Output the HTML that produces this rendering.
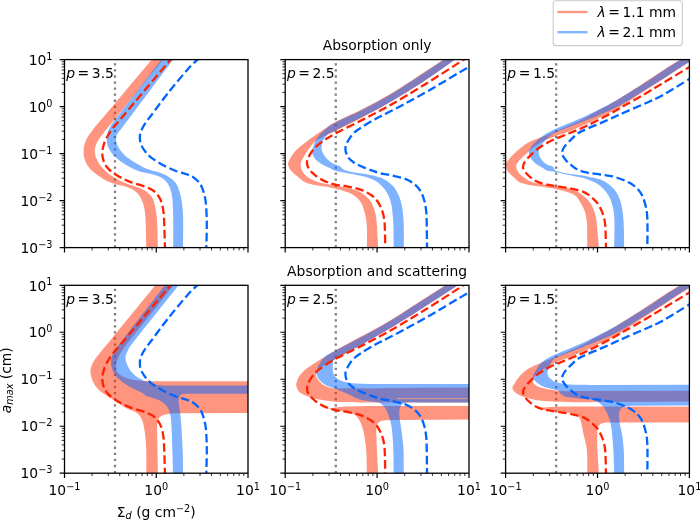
<!DOCTYPE html>
<html><head><meta charset="utf-8"><title>figure</title>
<style>html,body{margin:0;padding:0;background:#fff}svg text{font-family:"DejaVu Sans","Liberation Sans",sans-serif;fill:#000}</style></head>
<body>
<svg width="700" height="524" viewBox="0 0 700 524" style="display:block">
<rect width="700" height="524" fill="#fff"/>
<clipPath id="cp00"><rect x="64.50" y="59.60" width="183.50" height="188.00"/></clipPath>
<clipPath id="cp01"><rect x="285.20" y="59.60" width="183.80" height="188.00"/></clipPath>
<clipPath id="cp02"><rect x="505.60" y="59.60" width="183.80" height="188.00"/></clipPath>
<clipPath id="cp10"><rect x="64.50" y="285.30" width="183.50" height="187.90"/></clipPath>
<clipPath id="cp11"><rect x="285.20" y="285.30" width="183.80" height="187.90"/></clipPath>
<clipPath id="cp12"><rect x="505.60" y="285.30" width="183.80" height="187.90"/></clipPath>
<g clip-path="url(#cp00)">
<line x1="114.98" y1="247.60" x2="114.98" y2="59.60" stroke="#808080" stroke-width="2.3" stroke-dasharray="2.3,3.77"/>
<path d="M153.30,57.80C148.75,63.20 134.38,80.25 126.00,90.20C117.62,100.15 108.50,110.93 103.00,117.50C97.50,124.07 95.83,125.82 93.00,129.60C90.17,133.38 87.57,136.77 86.00,140.20C84.43,143.63 83.77,146.85 83.60,150.20C83.43,153.55 83.93,157.20 85.00,160.30C86.07,163.40 87.92,166.33 90.00,168.80C92.08,171.27 94.77,173.10 97.50,175.10C100.23,177.10 103.45,179.33 106.40,180.80C109.35,182.27 112.07,182.97 115.20,183.90C118.33,184.83 122.27,185.45 125.20,186.40C128.13,187.35 130.48,188.13 132.80,189.60C135.12,191.07 137.43,193.00 139.10,195.20C140.77,197.40 141.82,199.87 142.80,202.80C143.78,205.73 144.50,208.93 145.00,212.80C145.50,216.67 145.58,219.97 145.80,226.00C146.02,232.03 146.22,245.17 146.30,249.00L158.00,249.00C157.88,245.17 157.52,231.40 157.30,226.00C157.08,220.60 157.02,219.63 156.70,216.60C156.38,213.57 156.03,210.73 155.40,207.80C154.77,204.87 154.15,201.52 152.90,199.00C151.65,196.48 150.00,194.48 147.90,192.70C145.80,190.92 143.23,189.58 140.30,188.30C137.37,187.02 133.45,186.13 130.30,185.00C127.15,183.87 124.13,182.78 121.40,181.50C118.67,180.22 116.40,178.92 113.90,177.30C111.40,175.68 108.72,173.85 106.40,171.80C104.08,169.75 101.72,167.33 100.00,165.00C98.28,162.67 96.95,160.30 96.10,157.80C95.25,155.30 94.72,152.63 94.90,150.00C95.08,147.37 95.63,145.00 97.20,142.00C98.77,139.00 101.55,135.60 104.30,132.00C107.05,128.40 108.08,127.33 113.70,120.40C119.32,113.47 129.53,100.83 138.00,90.40C146.47,79.97 160.08,63.23 164.50,57.80Z" fill="#ff2a00" fill-opacity="0.50" fill-rule="nonzero"/>
<path d="M163.00,57.80C158.83,63.17 145.90,79.80 138.00,90.00C130.10,100.20 120.38,112.57 115.60,119.00C110.82,125.43 110.77,125.50 109.30,128.60C107.83,131.70 107.02,134.63 106.80,137.60C106.58,140.57 106.85,143.45 108.00,146.40C109.15,149.35 111.07,152.47 113.70,155.30C116.33,158.13 119.82,160.83 123.80,163.40C127.78,165.97 133.20,168.97 137.60,170.70C142.00,172.43 146.43,172.75 150.20,173.80C153.97,174.85 157.48,175.63 160.20,177.00C162.92,178.37 164.82,180.02 166.50,182.00C168.18,183.98 169.35,186.28 170.30,188.90C171.25,191.52 171.75,194.13 172.20,197.70C172.65,201.27 172.82,205.58 173.00,210.30C173.18,215.02 173.27,219.55 173.30,226.00C173.33,232.45 173.22,245.17 173.20,249.00L183.00,249.00C183.03,245.17 183.22,232.03 183.20,226.00C183.18,219.97 183.17,217.08 182.90,212.80C182.63,208.52 182.23,204.07 181.60,200.30C180.97,196.53 180.15,193.15 179.10,190.20C178.05,187.25 176.98,184.80 175.30,182.60C173.62,180.40 171.52,178.63 169.00,177.00C166.48,175.37 163.33,173.97 160.20,172.80C157.07,171.63 153.33,171.10 150.20,170.00C147.07,168.90 144.97,168.12 141.40,166.20C137.83,164.28 132.05,160.83 128.80,158.50C125.55,156.17 123.78,154.42 121.90,152.20C120.02,149.98 118.48,147.40 117.50,145.20C116.52,143.00 116.05,140.87 116.00,139.00C115.95,137.13 116.22,135.83 117.20,134.00C118.18,132.17 120.07,130.42 121.90,128.00C123.73,125.58 123.52,125.77 128.20,119.50C132.88,113.23 142.28,100.68 150.00,90.40C157.72,80.12 170.42,63.23 174.50,57.80Z" fill="#0066ff" fill-opacity="0.50" fill-rule="nonzero"/>
<path d="M165.00,249.00C164.88,245.17 164.53,232.03 164.30,226.00C164.07,219.97 164.03,216.67 163.60,212.80C163.17,208.93 162.65,205.73 161.70,202.80C160.75,199.87 159.58,197.40 157.90,195.20C156.22,193.00 154.12,191.17 151.60,189.60C149.08,188.03 146.15,187.00 142.80,185.80C139.45,184.60 134.88,183.63 131.50,182.40C128.12,181.17 125.25,179.78 122.50,178.40C119.75,177.02 117.30,175.65 115.00,174.10C112.70,172.55 110.48,170.98 108.70,169.10C106.92,167.22 105.35,165.10 104.30,162.80C103.25,160.50 102.62,157.87 102.40,155.30C102.18,152.73 102.37,150.18 103.00,147.40C103.63,144.62 104.62,141.73 106.20,138.60C107.78,135.47 109.67,132.37 112.50,128.60C115.33,124.83 117.87,122.33 123.20,116.00C128.53,109.67 136.35,100.30 144.50,90.60C152.65,80.90 167.50,63.27 172.10,57.80" fill="none" stroke="#ff2200" stroke-width="2.3" stroke-dasharray="8.5,3.66" stroke-dashoffset="1.6"/>
<path d="M206.30,249.00C206.38,245.17 206.77,232.03 206.80,226.00C206.83,219.97 206.72,217.08 206.50,212.80C206.28,208.52 206.08,204.07 205.50,200.30C204.92,196.53 204.05,193.15 203.00,190.20C201.95,187.25 200.88,184.80 199.20,182.60C197.52,180.40 195.20,178.47 192.90,177.00C190.60,175.53 188.33,174.85 185.40,173.80C182.47,172.75 179.08,172.17 175.30,170.70C171.52,169.23 166.67,167.15 162.70,165.00C158.73,162.85 154.42,160.05 151.50,157.80C148.58,155.55 146.98,153.82 145.20,151.50C143.42,149.18 141.68,146.42 140.80,143.90C139.92,141.38 139.80,138.70 139.90,136.40C140.00,134.10 140.42,132.42 141.40,130.10C142.38,127.78 144.12,125.02 145.80,122.50C147.48,119.98 147.80,119.92 151.50,115.00C155.20,110.08 161.92,100.67 168.00,93.00C174.08,85.33 182.75,74.87 188.00,69.00C193.25,63.13 197.58,59.67 199.50,57.80" fill="none" stroke="#0066ff" stroke-width="2.3" stroke-dasharray="8.5,3.66" stroke-dashoffset="4.5"/>
</g>
<path d="M64.50,247.60v4.86M156.25,247.60v4.86M248.00,247.60v4.86M64.50,247.60h-4.86M64.50,200.60h-4.86M64.50,153.60h-4.86M64.50,106.60h-4.86M64.50,59.60h-4.86" stroke="#000" stroke-width="1.2" fill="none"/>
<path d="M92.12,247.60v2.78M108.28,247.60v2.78M119.74,247.60v2.78M128.63,247.60v2.78M135.90,247.60v2.78M142.04,247.60v2.78M147.36,247.60v2.78M152.05,247.60v2.78M183.87,247.60v2.78M200.03,247.60v2.78M211.49,247.60v2.78M220.38,247.60v2.78M227.65,247.60v2.78M233.79,247.60v2.78M239.11,247.60v2.78M243.80,247.60v2.78M64.50,233.45h-2.78M64.50,225.18h-2.78M64.50,219.30h-2.78M64.50,214.75h-2.78M64.50,211.03h-2.78M64.50,207.88h-2.78M64.50,205.15h-2.78M64.50,202.75h-2.78M64.50,186.45h-2.78M64.50,178.18h-2.78M64.50,172.30h-2.78M64.50,167.75h-2.78M64.50,164.03h-2.78M64.50,160.88h-2.78M64.50,158.15h-2.78M64.50,155.75h-2.78M64.50,139.45h-2.78M64.50,131.18h-2.78M64.50,125.30h-2.78M64.50,120.75h-2.78M64.50,117.03h-2.78M64.50,113.88h-2.78M64.50,111.15h-2.78M64.50,108.75h-2.78M64.50,92.45h-2.78M64.50,84.18h-2.78M64.50,78.30h-2.78M64.50,73.75h-2.78M64.50,70.03h-2.78M64.50,66.88h-2.78M64.50,64.15h-2.78M64.50,61.75h-2.78" stroke="#000" stroke-width="0.83" fill="none"/>
<rect x="64.50" y="59.60" width="183.50" height="188.00" fill="none" stroke="#000" stroke-width="1.3"/>
<text x="66.20" y="78.40" font-size="13.89"><tspan font-style="italic">p</tspan><tspan dx="2.6">=</tspan><tspan dx="2.6">3.5</tspan></text>
<text x="52.50" y="252.80" text-anchor="end" font-size="13.89">10<tspan dy="-5.3" font-size="9.72">−3</tspan></text>
<text x="52.50" y="205.80" text-anchor="end" font-size="13.89">10<tspan dy="-5.3" font-size="9.72">−2</tspan></text>
<text x="52.50" y="158.80" text-anchor="end" font-size="13.89">10<tspan dy="-5.3" font-size="9.72">−1</tspan></text>
<text x="52.50" y="111.80" text-anchor="end" font-size="13.89">10<tspan dy="-5.3" font-size="9.72">0</tspan></text>
<text x="52.50" y="64.80" text-anchor="end" font-size="13.89">10<tspan dy="-5.3" font-size="9.72">1</tspan></text>
<g clip-path="url(#cp01)">
<line x1="335.77" y1="247.60" x2="335.77" y2="59.60" stroke="#808080" stroke-width="2.3" stroke-dasharray="2.3,3.77"/>
<path d="M446.50,57.80C446.00,58.10 448.93,56.07 443.50,59.60C438.07,63.13 423.15,73.07 413.90,79.00C404.65,84.93 396.65,90.17 388.00,95.20C379.35,100.23 370.73,104.77 362.00,109.20C353.27,113.63 341.73,118.57 335.60,121.80C329.47,125.03 328.55,126.40 325.20,128.60C321.85,130.80 318.63,132.80 315.50,135.00C312.37,137.20 309.60,139.28 306.40,141.80C303.20,144.32 299.03,147.25 296.30,150.10C293.57,152.95 291.37,156.60 290.00,158.90C288.63,161.20 287.98,162.02 288.10,163.90C288.22,165.78 289.12,168.10 290.70,170.20C292.28,172.30 295.20,174.50 297.60,176.50C300.00,178.50 301.97,180.73 305.10,182.20C308.23,183.67 312.42,184.47 316.40,185.30C320.38,186.13 324.80,186.37 329.00,187.20C333.20,188.03 337.62,189.05 341.60,190.30C345.58,191.55 349.72,192.75 352.90,194.70C356.08,196.65 358.78,199.18 360.70,202.00C362.62,204.82 363.47,208.53 364.40,211.60C365.33,214.67 365.87,217.33 366.30,220.40C366.73,223.47 366.90,225.23 367.00,230.00C367.10,234.77 366.92,245.83 366.90,249.00L378.30,249.00C378.08,245.17 377.42,231.62 377.00,226.00C376.58,220.38 376.43,218.55 375.80,215.30C375.17,212.05 374.37,209.22 373.20,206.50C372.03,203.78 370.92,201.38 368.80,199.00C366.68,196.62 363.57,193.95 360.50,192.20C357.43,190.45 354.18,189.55 350.40,188.50C346.62,187.45 341.78,186.63 337.80,185.90C333.82,185.17 330.07,184.83 326.50,184.10C322.93,183.37 319.55,182.67 316.40,181.50C313.25,180.33 309.90,178.77 307.60,177.10C305.30,175.43 303.75,173.70 302.60,171.50C301.45,169.30 300.48,166.42 300.70,163.90C300.92,161.38 302.53,158.92 303.90,156.40C305.27,153.88 307.02,151.28 308.90,148.80C310.78,146.32 312.92,143.47 315.20,141.50C317.48,139.53 319.20,138.77 322.60,137.00C326.00,135.23 328.88,134.20 335.60,130.90C342.32,127.60 354.17,121.75 362.90,117.20C371.63,112.65 378.03,109.42 388.00,103.60C397.97,97.78 411.57,89.60 422.70,82.30C433.83,75.00 448.95,63.88 454.80,59.80C460.65,55.72 457.30,58.13 457.80,57.80Z" fill="#ff2a00" fill-opacity="0.50" fill-rule="nonzero"/>
<path d="M446.50,58.20C446.00,58.52 448.93,56.52 443.50,60.10C438.07,63.68 423.15,73.73 413.90,79.70C404.65,85.67 396.65,90.87 388.00,95.90C379.35,100.93 370.73,105.47 362.00,109.90C353.27,114.33 341.73,119.22 335.60,122.50C329.47,125.78 328.20,127.10 325.20,129.60C322.20,132.10 319.58,134.72 317.60,137.50C315.62,140.28 314.23,143.78 313.30,146.30C312.37,148.82 311.68,150.50 312.00,152.60C312.32,154.70 313.62,157.02 315.20,158.90C316.78,160.78 319.20,162.43 321.50,163.90C323.80,165.37 326.70,166.55 329.00,167.70C331.30,168.85 332.98,170.03 335.30,170.80C337.62,171.57 339.97,171.73 342.90,172.30C345.83,172.87 349.20,173.45 352.90,174.20C356.60,174.95 361.40,175.70 365.10,176.80C368.80,177.90 372.17,179.10 375.10,180.80C378.03,182.50 380.50,184.60 382.70,187.00C384.90,189.40 386.83,192.15 388.30,195.20C389.77,198.25 390.77,201.95 391.50,205.30C392.23,208.65 392.38,211.85 392.70,215.30C393.02,218.75 393.23,220.38 393.40,226.00C393.57,231.62 393.65,245.17 393.70,249.00L403.80,249.00C403.80,245.17 403.87,231.18 403.80,226.00C403.73,220.82 403.67,220.93 403.40,217.90C403.13,214.87 402.82,211.17 402.20,207.80C401.58,204.43 400.85,200.85 399.70,197.70C398.55,194.55 397.08,191.42 395.30,188.90C393.52,186.38 391.52,184.48 389.00,182.60C386.48,180.72 383.77,178.95 380.20,177.60C376.63,176.25 372.15,175.38 367.60,174.50C363.05,173.62 356.82,173.08 352.90,172.30C348.98,171.52 346.20,170.78 344.10,169.80C342.00,168.82 341.77,167.27 340.30,166.40C338.83,165.53 337.18,165.53 335.30,164.60C333.42,163.67 330.88,162.38 329.00,160.80C327.12,159.22 325.25,157.10 324.00,155.10C322.75,153.10 321.72,151.10 321.50,148.80C321.28,146.50 321.67,143.68 322.70,141.30C323.73,138.92 325.55,136.33 327.70,134.50C329.85,132.67 329.73,133.28 335.60,130.30C341.47,127.32 354.17,121.12 362.90,116.60C371.63,112.08 378.03,108.97 388.00,103.20C397.97,97.43 411.57,89.23 422.70,82.00C433.83,74.77 448.95,63.83 454.80,59.80C460.65,55.77 457.30,58.13 457.80,57.80Z" fill="#0066ff" fill-opacity="0.50" fill-rule="nonzero"/>
<path d="M385.20,249.00C385.15,245.83 385.07,234.98 384.90,230.00C384.73,225.02 384.68,222.38 384.20,219.10C383.72,215.82 383.10,213.23 382.00,210.30C380.90,207.37 379.37,204.02 377.60,201.50C375.83,198.98 374.25,197.17 371.40,195.20C368.55,193.23 364.42,191.13 360.50,189.70C356.58,188.27 352.10,187.43 347.90,186.60C343.70,185.77 339.28,185.65 335.30,184.70C331.32,183.75 327.35,182.47 324.00,180.90C320.65,179.33 317.72,177.28 315.20,175.30C312.68,173.32 310.27,171.10 308.90,169.00C307.53,166.90 307.00,164.80 307.00,162.70C307.00,160.60 307.75,158.72 308.90,156.40C310.05,154.08 311.60,151.32 313.90,148.80C316.20,146.28 319.08,143.87 322.70,141.30C326.32,138.73 328.90,137.02 335.60,133.40C342.30,129.78 354.17,124.10 362.90,119.60C371.63,115.10 378.03,112.03 388.00,106.40C397.97,100.77 410.10,93.57 422.70,85.80C435.30,78.03 456.28,64.47 463.60,59.80C470.92,55.13 466.10,58.13 466.60,57.80" fill="none" stroke="#ff2200" stroke-width="2.3" stroke-dasharray="8.5,3.66" stroke-dashoffset="6.2"/>
<path d="M427.00,249.00C426.95,244.43 426.85,228.05 426.70,221.60C426.55,215.15 426.52,213.85 426.10,210.30C425.68,206.75 425.15,203.55 424.20,200.30C423.25,197.05 422.08,193.53 420.40,190.80C418.72,188.07 416.62,185.88 414.10,183.90C411.58,181.92 408.87,180.27 405.30,178.90C401.73,177.53 396.88,176.65 392.70,175.70C388.52,174.75 383.48,174.02 380.20,173.20C376.92,172.38 375.87,171.82 373.00,170.80C370.13,169.78 366.13,168.45 363.00,167.10C359.87,165.75 356.72,164.38 354.20,162.70C351.68,161.02 349.37,159.37 347.90,157.00C346.43,154.63 345.32,151.28 345.40,148.50C345.48,145.72 346.95,142.92 348.40,140.30C349.85,137.68 351.68,135.10 354.10,132.80C356.52,130.50 359.33,128.82 362.90,126.50C366.47,124.18 371.32,121.22 375.50,118.90C379.68,116.58 380.13,116.75 388.00,112.60C395.87,108.45 409.27,101.60 422.70,94.00C436.13,86.40 460.47,71.83 468.60,67.00C476.73,62.17 471.02,65.33 471.50,65.00" fill="none" stroke="#0066ff" stroke-width="2.3" stroke-dasharray="8.5,3.66" stroke-dashoffset="2.0"/>
</g>
<path d="M285.20,247.60v4.86M377.10,247.60v4.86M469.00,247.60v4.86M285.20,247.60h-4.86M285.20,200.60h-4.86M285.20,153.60h-4.86M285.20,106.60h-4.86M285.20,59.60h-4.86" stroke="#000" stroke-width="1.2" fill="none"/>
<path d="M312.86,247.60v2.78M329.05,247.60v2.78M340.53,247.60v2.78M349.44,247.60v2.78M356.71,247.60v2.78M362.86,247.60v2.78M368.19,247.60v2.78M372.89,247.60v2.78M404.76,247.60v2.78M420.95,247.60v2.78M432.43,247.60v2.78M441.34,247.60v2.78M448.61,247.60v2.78M454.76,247.60v2.78M460.09,247.60v2.78M464.79,247.60v2.78M285.20,233.45h-2.78M285.20,225.18h-2.78M285.20,219.30h-2.78M285.20,214.75h-2.78M285.20,211.03h-2.78M285.20,207.88h-2.78M285.20,205.15h-2.78M285.20,202.75h-2.78M285.20,186.45h-2.78M285.20,178.18h-2.78M285.20,172.30h-2.78M285.20,167.75h-2.78M285.20,164.03h-2.78M285.20,160.88h-2.78M285.20,158.15h-2.78M285.20,155.75h-2.78M285.20,139.45h-2.78M285.20,131.18h-2.78M285.20,125.30h-2.78M285.20,120.75h-2.78M285.20,117.03h-2.78M285.20,113.88h-2.78M285.20,111.15h-2.78M285.20,108.75h-2.78M285.20,92.45h-2.78M285.20,84.18h-2.78M285.20,78.30h-2.78M285.20,73.75h-2.78M285.20,70.03h-2.78M285.20,66.88h-2.78M285.20,64.15h-2.78M285.20,61.75h-2.78" stroke="#000" stroke-width="0.83" fill="none"/>
<rect x="285.20" y="59.60" width="183.80" height="188.00" fill="none" stroke="#000" stroke-width="1.3"/>
<text x="286.90" y="78.40" font-size="13.89"><tspan font-style="italic">p</tspan><tspan dx="2.6">=</tspan><tspan dx="2.6">2.5</tspan></text>
<g clip-path="url(#cp02)">
<line x1="556.17" y1="247.60" x2="556.17" y2="59.60" stroke="#808080" stroke-width="2.3" stroke-dasharray="2.3,3.77"/>
<path d="M683.50,57.60C682.95,57.93 683.68,57.45 680.20,59.60C676.72,61.75 668.68,66.60 662.60,70.50C656.52,74.40 649.98,78.90 643.70,83.00C637.42,87.10 630.03,91.85 624.90,95.10C619.77,98.35 619.07,98.95 612.90,102.50C606.73,106.05 595.22,112.55 587.90,116.40C580.58,120.25 574.25,123.18 569.00,125.60C563.75,128.02 559.97,129.38 556.40,130.90C552.83,132.42 550.22,133.60 547.60,134.70C544.98,135.80 543.93,136.20 540.70,137.50C537.47,138.80 531.97,140.40 528.20,142.50C524.43,144.60 521.05,147.58 518.10,150.10C515.15,152.62 512.50,155.30 510.50,157.60C508.50,159.90 506.52,161.58 506.10,163.90C505.68,166.22 506.63,169.18 508.00,171.50C509.37,173.82 512.38,176.00 514.30,177.80C516.22,179.60 517.18,181.15 519.50,182.30C521.82,183.45 524.67,183.98 528.20,184.70C531.73,185.42 536.52,185.97 540.70,186.60C544.88,187.23 549.10,187.67 553.30,188.50C557.50,189.33 562.28,190.42 565.90,191.60C569.52,192.78 572.65,193.90 575.00,195.60C577.35,197.30 578.43,199.35 580.00,201.80C581.57,204.25 583.35,207.62 584.40,210.30C585.45,212.98 585.85,215.28 586.30,217.90C586.75,220.52 586.93,220.82 587.10,226.00C587.27,231.18 587.27,245.17 587.30,249.00L599.00,249.00C598.67,245.17 597.53,231.40 597.00,226.00C596.47,220.60 596.43,219.53 595.80,216.60C595.17,213.67 594.37,211.02 593.20,208.40C592.03,205.78 590.58,203.10 588.80,200.90C587.02,198.70 584.80,196.92 582.50,195.20C580.20,193.48 577.77,191.83 575.00,190.60C572.23,189.37 569.52,188.58 565.90,187.80C562.28,187.02 557.50,186.52 553.30,185.90C549.10,185.28 544.47,184.83 540.70,184.10C536.93,183.37 533.42,182.55 530.70,181.50C527.98,180.45 526.40,179.27 524.40,177.80C522.40,176.33 520.07,174.60 518.70,172.70C517.33,170.80 516.30,168.18 516.20,166.40C516.10,164.62 516.63,163.88 518.10,162.00C519.57,160.12 522.48,157.50 525.00,155.10C527.52,152.70 529.95,150.03 533.20,147.60C536.45,145.17 540.63,142.45 544.50,140.50C548.37,138.55 552.32,137.40 556.40,135.90C560.48,134.40 563.75,133.60 569.00,131.50C574.25,129.40 580.58,126.72 587.90,123.30C595.22,119.88 606.73,114.22 612.90,111.00C619.07,107.78 619.77,107.25 624.90,104.00C630.03,100.75 637.42,95.58 643.70,91.50C649.98,87.42 656.30,83.58 662.60,79.50C668.90,75.42 677.03,69.92 681.50,67.00C685.97,64.08 687.48,63.28 689.40,62.00C691.32,60.72 692.40,59.75 693.00,59.30Z" fill="#ff2a00" fill-opacity="0.50" fill-rule="nonzero"/>
<path d="M683.50,58.00C682.95,58.33 683.68,57.80 680.20,60.00C676.72,62.20 668.68,67.23 662.60,71.20C656.52,75.17 649.98,79.78 643.70,83.80C637.42,87.82 630.03,92.22 624.90,95.30C619.77,98.38 619.07,99.02 612.90,102.30C606.73,105.58 595.22,111.50 587.90,115.00C580.58,118.50 574.25,121.07 569.00,123.30C563.75,125.53 560.17,126.72 556.40,128.40C552.63,130.08 549.33,131.62 546.40,133.40C543.47,135.18 541.00,137.25 538.80,139.10C536.60,140.95 534.75,142.77 533.20,144.50C531.65,146.23 530.23,148.18 529.50,149.50C528.77,150.82 528.50,150.83 528.80,152.40C529.10,153.97 529.93,156.87 531.30,158.90C532.67,160.93 535.00,163.03 537.00,164.60C539.00,166.17 541.63,167.30 543.30,168.30C544.97,169.30 544.92,169.97 547.00,170.60C549.08,171.23 552.65,171.43 555.80,172.10C558.95,172.77 562.70,173.92 565.90,174.60C569.10,175.28 571.80,175.57 575.00,176.20C578.20,176.83 581.75,177.33 585.10,178.40C588.45,179.47 592.17,180.95 595.10,182.60C598.03,184.25 600.38,185.98 602.70,188.30C605.02,190.62 607.33,193.47 609.00,196.50C610.67,199.53 611.83,203.15 612.70,206.50C613.57,209.85 613.90,213.35 614.20,216.60C614.50,219.85 614.50,220.60 614.50,226.00C614.50,231.40 614.25,245.17 614.20,249.00L624.20,249.00C624.15,245.83 624.03,234.98 623.90,230.00C623.77,225.02 623.68,222.58 623.40,219.10C623.12,215.62 622.82,212.45 622.20,209.10C621.58,205.75 620.85,202.05 619.70,199.00C618.55,195.95 617.08,193.22 615.30,190.80C613.52,188.38 611.52,186.38 609.00,184.50C606.48,182.62 603.77,180.85 600.20,179.50C596.63,178.15 591.80,177.22 587.60,176.40C583.40,175.58 578.62,175.13 575.00,174.60C571.38,174.07 569.13,173.90 565.90,173.20C562.67,172.50 557.70,171.42 555.60,170.40C553.50,169.38 554.73,168.07 553.30,167.10C551.87,166.13 548.88,165.75 547.00,164.60C545.12,163.45 543.37,161.98 542.00,160.20C540.63,158.42 539.17,156.00 538.80,153.90C538.43,151.80 538.85,149.70 539.80,147.60C540.75,145.50 542.77,143.23 544.50,141.30C546.23,139.37 548.22,137.53 550.20,136.00C552.18,134.47 553.27,133.58 556.40,132.10C559.53,130.62 563.75,129.18 569.00,127.10C574.25,125.02 580.58,122.63 587.90,119.60C595.22,116.57 606.73,111.73 612.90,108.90C619.07,106.07 619.77,105.62 624.90,102.60C630.03,99.58 637.42,94.73 643.70,90.80C649.98,86.87 656.30,83.00 662.60,79.00C668.90,75.00 677.03,69.63 681.50,66.80C685.97,63.97 687.48,63.25 689.40,62.00C691.32,60.75 692.40,59.75 693.00,59.30Z" fill="#0066ff" fill-opacity="0.50" fill-rule="nonzero"/>
<path d="M606.00,249.00C605.92,245.83 605.73,234.77 605.50,230.00C605.27,225.23 605.18,223.47 604.60,220.40C604.02,217.33 603.17,214.43 602.00,211.60C600.83,208.77 599.37,205.82 597.60,203.40C595.83,200.98 593.70,198.98 591.40,197.10C589.10,195.22 587.00,193.48 583.80,192.10C580.60,190.72 576.23,189.72 572.20,188.80C568.17,187.88 563.80,187.28 559.60,186.60C555.40,185.92 550.98,185.65 547.00,184.70C543.02,183.75 539.05,182.68 535.70,180.90C532.35,179.12 529.00,176.20 526.90,174.00C524.80,171.80 523.52,169.58 523.10,167.70C522.68,165.82 523.13,164.80 524.40,162.70C525.67,160.60 527.98,157.75 530.70,155.10C533.42,152.45 536.93,149.35 540.70,146.80C544.47,144.25 548.58,142.03 553.30,139.80C558.02,137.57 563.23,135.83 569.00,133.40C574.77,130.97 580.58,128.73 587.90,125.20C595.22,121.67 606.73,115.52 612.90,112.20C619.07,108.88 619.77,108.23 624.90,105.30C630.03,102.37 637.42,98.27 643.70,94.60C649.98,90.93 654.98,87.90 662.60,83.30C670.22,78.70 684.33,70.08 689.40,67.00C694.47,63.92 692.40,65.17 693.00,64.80" fill="none" stroke="#ff2200" stroke-width="2.3" stroke-dasharray="8.5,3.66" stroke-dashoffset="2.2"/>
<path d="M647.30,249.00C647.33,245.17 647.57,232.03 647.50,226.00C647.43,219.97 647.35,216.67 646.90,212.80C646.45,208.93 645.78,206.05 644.80,202.80C643.82,199.55 642.78,196.13 641.00,193.30C639.22,190.47 636.72,187.88 634.10,185.80C631.48,183.72 628.87,182.37 625.30,180.80C621.73,179.23 616.88,177.45 612.70,176.40C608.52,175.35 604.38,175.13 600.20,174.50C596.02,173.87 591.38,173.42 587.60,172.60C583.82,171.78 580.18,170.82 577.50,169.60C574.82,168.38 573.43,166.87 571.50,165.30C569.57,163.73 567.47,162.17 565.90,160.20C564.33,158.23 562.38,155.70 562.10,153.50C561.82,151.30 562.83,149.20 564.20,147.00C565.57,144.80 568.03,142.57 570.30,140.30C572.57,138.03 574.87,135.38 577.80,133.40C580.73,131.42 584.12,130.12 587.90,128.40C591.68,126.68 596.33,124.90 600.50,123.10C604.67,121.30 608.83,119.42 612.90,117.60C616.97,115.78 619.77,114.47 624.90,112.20C630.03,109.93 637.42,106.82 643.70,104.00C649.98,101.18 654.98,99.48 662.60,95.30C670.22,91.12 684.33,82.00 689.40,78.90C694.47,75.80 692.40,77.07 693.00,76.70" fill="none" stroke="#0066ff" stroke-width="2.3" stroke-dasharray="8.5,3.66" stroke-dashoffset="7.2"/>
</g>
<path d="M505.60,247.60v4.86M597.50,247.60v4.86M689.40,247.60v4.86M505.60,247.60h-4.86M505.60,200.60h-4.86M505.60,153.60h-4.86M505.60,106.60h-4.86M505.60,59.60h-4.86" stroke="#000" stroke-width="1.2" fill="none"/>
<path d="M533.26,247.60v2.78M549.45,247.60v2.78M560.93,247.60v2.78M569.84,247.60v2.78M577.11,247.60v2.78M583.26,247.60v2.78M588.59,247.60v2.78M593.29,247.60v2.78M625.16,247.60v2.78M641.35,247.60v2.78M652.83,247.60v2.78M661.74,247.60v2.78M669.01,247.60v2.78M675.16,247.60v2.78M680.49,247.60v2.78M685.19,247.60v2.78M505.60,233.45h-2.78M505.60,225.18h-2.78M505.60,219.30h-2.78M505.60,214.75h-2.78M505.60,211.03h-2.78M505.60,207.88h-2.78M505.60,205.15h-2.78M505.60,202.75h-2.78M505.60,186.45h-2.78M505.60,178.18h-2.78M505.60,172.30h-2.78M505.60,167.75h-2.78M505.60,164.03h-2.78M505.60,160.88h-2.78M505.60,158.15h-2.78M505.60,155.75h-2.78M505.60,139.45h-2.78M505.60,131.18h-2.78M505.60,125.30h-2.78M505.60,120.75h-2.78M505.60,117.03h-2.78M505.60,113.88h-2.78M505.60,111.15h-2.78M505.60,108.75h-2.78M505.60,92.45h-2.78M505.60,84.18h-2.78M505.60,78.30h-2.78M505.60,73.75h-2.78M505.60,70.03h-2.78M505.60,66.88h-2.78M505.60,64.15h-2.78M505.60,61.75h-2.78" stroke="#000" stroke-width="0.83" fill="none"/>
<rect x="505.60" y="59.60" width="183.80" height="188.00" fill="none" stroke="#000" stroke-width="1.3"/>
<text x="507.30" y="78.40" font-size="13.89"><tspan font-style="italic">p</tspan><tspan dx="2.6">=</tspan><tspan dx="2.6">1.5</tspan></text>
<g clip-path="url(#cp10)">
<line x1="114.98" y1="473.20" x2="114.98" y2="285.30" stroke="#808080" stroke-width="2.3" stroke-dasharray="2.3,3.77"/>
<path d="M157.20,283.00C156.88,283.38 163.07,275.80 155.30,285.30C147.53,294.80 119.62,329.00 110.60,340.00C101.58,351.00 104.03,347.73 101.20,351.30C98.37,354.87 95.38,358.25 93.60,361.40C91.82,364.55 90.70,367.05 90.50,370.20C90.30,373.35 91.15,377.15 92.40,380.30C93.65,383.45 95.40,386.38 98.00,389.10C100.60,391.82 104.75,394.35 108.00,396.60C111.25,398.85 114.43,400.65 117.50,402.60C120.57,404.55 123.45,406.73 126.40,408.30C129.35,409.87 132.90,410.65 135.20,412.00C137.50,413.35 138.85,414.40 140.20,416.40C141.55,418.40 142.47,420.85 143.30,424.00C144.13,427.15 144.70,430.82 145.20,435.30C145.70,439.78 146.12,444.28 146.30,450.90C146.48,457.52 146.30,470.98 146.30,475.00L158.00,475.00C157.92,470.98 157.63,457.52 157.50,450.90C157.37,444.28 157.25,439.57 157.20,435.30C157.15,431.03 157.00,428.02 157.20,425.30C157.40,422.58 157.47,420.68 158.40,419.00C159.33,417.32 160.80,416.08 162.80,415.20C164.80,414.32 168.37,414.02 170.40,413.70C172.43,413.38 174.23,413.37 175.00,413.30L252.00,413.10L252.00,381.20L160.00,381.20C157.73,381.17 150.33,381.17 146.40,381.00C142.47,380.83 139.75,380.72 136.40,380.20C133.05,379.68 129.45,379.15 126.30,377.90C123.15,376.65 119.22,374.82 117.50,372.70C115.78,370.58 115.78,367.90 116.00,365.20C116.22,362.50 117.63,359.12 118.80,356.50C119.97,353.88 121.12,352.25 123.00,349.50C124.88,346.75 121.67,350.70 130.10,340.00C138.53,329.30 166.03,294.80 173.60,285.30C181.17,275.80 175.18,283.38 175.50,283.00Z" fill="#ff2a00" fill-opacity="0.50" fill-rule="nonzero"/>
<path d="M166.60,283.00C166.30,283.38 172.15,275.80 164.80,285.30C157.45,294.80 130.80,329.22 122.50,340.00C114.20,350.78 116.88,346.85 115.00,350.00C113.12,353.15 111.73,355.95 111.20,358.90C110.67,361.85 110.95,364.77 111.80,367.70C112.65,370.63 114.60,374.20 116.30,376.50C118.00,378.80 120.13,380.00 122.00,381.50C123.87,383.00 125.30,384.17 127.50,385.50C129.70,386.83 132.67,388.22 135.20,389.50C137.73,390.78 140.82,392.12 142.70,393.20C144.58,394.28 144.62,395.17 146.50,396.00C148.38,396.83 151.70,397.42 154.00,398.20C156.30,398.98 158.42,399.65 160.30,400.70C162.18,401.75 163.83,402.92 165.30,404.50C166.77,406.08 168.18,408.00 169.10,410.20C170.02,412.40 170.38,414.57 170.80,417.70C171.22,420.83 171.33,423.47 171.60,429.00C171.87,434.53 172.17,443.23 172.40,450.90C172.63,458.57 172.90,470.98 173.00,475.00L183.00,475.00C182.95,470.98 183.02,459.62 182.70,450.90C182.38,442.18 181.58,429.48 181.10,422.70C180.62,415.92 180.22,413.75 179.80,410.20C179.38,406.65 178.47,403.93 178.60,401.40C178.73,398.87 179.45,396.27 180.60,395.00C181.75,393.73 183.93,394.02 185.50,393.80C187.07,393.58 189.25,393.72 190.00,393.70L252.00,393.70L252.00,385.40L170.00,385.40C168.33,385.37 163.00,385.43 160.00,385.20C157.00,384.97 154.68,384.73 152.00,384.00C149.32,383.27 146.50,382.05 143.90,380.80C141.30,379.55 138.70,378.27 136.40,376.50C134.10,374.73 131.78,372.52 130.10,370.20C128.42,367.88 127.03,364.90 126.30,362.60C125.57,360.30 125.28,358.70 125.70,356.40C126.12,354.10 127.23,351.53 128.80,348.80C130.37,346.07 126.80,350.58 135.10,340.00C143.40,329.42 171.05,294.80 178.60,285.30C186.15,275.80 180.10,283.38 180.40,283.00Z" fill="#0066ff" fill-opacity="0.50" fill-rule="nonzero"/>
<path d="M165.00,474.50C164.88,470.67 164.53,457.53 164.30,451.50C164.07,445.47 164.03,442.17 163.60,438.30C163.17,434.43 162.65,431.23 161.70,428.30C160.75,425.37 159.58,422.90 157.90,420.70C156.22,418.50 154.12,416.67 151.60,415.10C149.08,413.53 146.15,412.50 142.80,411.30C139.45,410.10 134.88,409.13 131.50,407.90C128.12,406.67 125.25,405.28 122.50,403.90C119.75,402.52 117.30,401.15 115.00,399.60C112.70,398.05 110.48,396.48 108.70,394.60C106.92,392.72 105.35,390.60 104.30,388.30C103.25,386.00 102.62,383.37 102.40,380.80C102.18,378.23 102.37,375.68 103.00,372.90C103.63,370.12 104.62,367.23 106.20,364.10C107.78,360.97 109.67,357.87 112.50,354.10C115.33,350.33 117.87,347.83 123.20,341.50C128.53,335.17 136.35,325.80 144.50,316.10C152.65,306.40 167.50,288.77 172.10,283.30" fill="none" stroke="#ff2200" stroke-width="2.3" stroke-dasharray="8.5,3.66" stroke-dashoffset="1.6"/>
<path d="M206.30,474.50C206.38,470.67 206.77,457.53 206.80,451.50C206.83,445.47 206.72,442.58 206.50,438.30C206.28,434.02 206.08,429.57 205.50,425.80C204.92,422.03 204.05,418.65 203.00,415.70C201.95,412.75 200.88,410.30 199.20,408.10C197.52,405.90 195.20,403.97 192.90,402.50C190.60,401.03 188.33,400.35 185.40,399.30C182.47,398.25 179.08,397.67 175.30,396.20C171.52,394.73 166.67,392.65 162.70,390.50C158.73,388.35 154.42,385.55 151.50,383.30C148.58,381.05 146.98,379.32 145.20,377.00C143.42,374.68 141.68,371.92 140.80,369.40C139.92,366.88 139.80,364.20 139.90,361.90C140.00,359.60 140.42,357.92 141.40,355.60C142.38,353.28 144.12,350.52 145.80,348.00C147.48,345.48 147.80,345.42 151.50,340.50C155.20,335.58 161.92,326.17 168.00,318.50C174.08,310.83 182.75,300.37 188.00,294.50C193.25,288.63 197.58,285.17 199.50,283.30" fill="none" stroke="#0066ff" stroke-width="2.3" stroke-dasharray="8.5,3.66" stroke-dashoffset="4.5"/>
</g>
<path d="M64.50,473.20v4.86M156.25,473.20v4.86M248.00,473.20v4.86M64.50,473.20h-4.86M64.50,426.23h-4.86M64.50,379.25h-4.86M64.50,332.27h-4.86M64.50,285.30h-4.86" stroke="#000" stroke-width="1.2" fill="none"/>
<path d="M92.12,473.20v2.78M108.28,473.20v2.78M119.74,473.20v2.78M128.63,473.20v2.78M135.90,473.20v2.78M142.04,473.20v2.78M147.36,473.20v2.78M152.05,473.20v2.78M183.87,473.20v2.78M200.03,473.20v2.78M211.49,473.20v2.78M220.38,473.20v2.78M227.65,473.20v2.78M233.79,473.20v2.78M239.11,473.20v2.78M243.80,473.20v2.78M64.50,459.06h-2.78M64.50,450.79h-2.78M64.50,444.92h-2.78M64.50,440.37h-2.78M64.50,436.65h-2.78M64.50,433.50h-2.78M64.50,430.78h-2.78M64.50,428.37h-2.78M64.50,412.08h-2.78M64.50,403.81h-2.78M64.50,397.94h-2.78M64.50,393.39h-2.78M64.50,389.67h-2.78M64.50,386.53h-2.78M64.50,383.80h-2.78M64.50,381.40h-2.78M64.50,365.11h-2.78M64.50,356.84h-2.78M64.50,350.97h-2.78M64.50,346.42h-2.78M64.50,342.70h-2.78M64.50,339.55h-2.78M64.50,336.83h-2.78M64.50,334.42h-2.78M64.50,318.13h-2.78M64.50,309.86h-2.78M64.50,303.99h-2.78M64.50,299.44h-2.78M64.50,295.72h-2.78M64.50,292.58h-2.78M64.50,289.85h-2.78M64.50,287.45h-2.78" stroke="#000" stroke-width="0.83" fill="none"/>
<rect x="64.50" y="285.30" width="183.50" height="187.90" fill="none" stroke="#000" stroke-width="1.3"/>
<text x="66.20" y="304.10" font-size="13.89"><tspan font-style="italic">p</tspan><tspan dx="2.6">=</tspan><tspan dx="2.6">3.5</tspan></text>
<text x="52.50" y="478.40" text-anchor="end" font-size="13.89">10<tspan dy="-5.3" font-size="9.72">−3</tspan></text>
<text x="52.50" y="431.43" text-anchor="end" font-size="13.89">10<tspan dy="-5.3" font-size="9.72">−2</tspan></text>
<text x="52.50" y="384.45" text-anchor="end" font-size="13.89">10<tspan dy="-5.3" font-size="9.72">−1</tspan></text>
<text x="52.50" y="337.47" text-anchor="end" font-size="13.89">10<tspan dy="-5.3" font-size="9.72">0</tspan></text>
<text x="52.50" y="290.50" text-anchor="end" font-size="13.89">10<tspan dy="-5.3" font-size="9.72">1</tspan></text>
<text x="64.50" y="495.00" text-anchor="middle" font-size="13.89">10<tspan dy="-5.3" font-size="9.72">−1</tspan></text>
<text x="156.25" y="495.00" text-anchor="middle" font-size="13.89">10<tspan dy="-5.3" font-size="9.72">0</tspan></text>
<text x="248.00" y="495.00" text-anchor="middle" font-size="13.89">10<tspan dy="-5.3" font-size="9.72">1</tspan></text>
<g clip-path="url(#cp11)">
<line x1="335.77" y1="473.20" x2="335.77" y2="285.30" stroke="#808080" stroke-width="2.3" stroke-dasharray="2.3,3.77"/>
<path d="M448.40,283.40C447.90,283.72 450.93,281.80 445.40,285.30C439.87,288.80 424.77,298.33 415.20,304.40C405.63,310.47 396.72,316.50 388.00,321.70C379.28,326.90 371.63,330.82 362.90,335.60C354.17,340.38 341.88,346.87 335.60,350.40C329.32,353.93 327.97,355.12 325.20,356.80C322.43,358.48 321.93,358.67 319.00,360.50C316.07,362.33 310.75,365.37 307.60,367.80C304.45,370.23 301.87,372.83 300.10,375.10C298.33,377.37 297.63,379.62 297.00,381.40C296.37,383.18 296.00,384.13 296.30,385.80C296.60,387.47 297.12,389.73 298.80,391.40C300.48,393.07 303.47,394.53 306.40,395.80C309.33,397.07 312.63,398.15 316.40,399.00C320.17,399.85 324.80,400.38 329.00,400.90C333.20,401.42 336.35,401.83 341.60,402.10C346.85,402.37 354.10,402.43 360.50,402.50C366.90,402.57 376.75,402.50 380.00,402.50L472.00,402.50L472.00,387.60L390.00,388.00C387.17,388.07 380.43,388.35 373.00,388.40C365.57,388.45 352.12,388.33 345.40,388.30C338.68,388.27 335.77,388.48 332.70,388.20C329.63,387.92 328.92,387.43 327.00,386.60C325.08,385.77 322.80,384.50 321.20,383.20C319.60,381.90 318.27,380.25 317.40,378.80C316.53,377.35 315.73,376.17 316.00,374.50C316.27,372.83 317.47,370.43 319.00,368.80C320.53,367.17 322.43,366.30 325.20,364.70C327.97,363.10 329.32,362.63 335.60,359.20C341.88,355.77 354.17,349.00 362.90,344.10C371.63,339.20 378.03,335.77 388.00,329.80C397.97,323.83 411.03,315.72 422.70,308.30C434.37,300.88 451.62,289.45 458.00,285.30C464.38,281.15 460.50,283.72 461.00,283.40Z" fill="#ff2a00" fill-opacity="0.50" fill-rule="nonzero"/>
<path d="M327.80,408.70C330.10,408.38 336.15,407.20 341.60,406.80C347.05,406.40 355.27,406.42 360.50,406.30C365.73,406.18 370.92,406.13 373.00,406.10L472.00,406.10L472.00,419.50L395.00,420.00C393.15,420.08 386.68,420.05 383.90,420.50C381.12,420.95 379.55,421.48 378.30,422.70C377.05,423.92 376.72,425.70 376.40,427.80C376.08,429.90 376.30,431.45 376.40,435.30C376.50,439.15 376.68,444.28 377.00,450.90C377.32,457.52 378.08,470.98 378.30,475.00L366.90,475.00C366.80,470.98 366.82,457.93 366.30,450.90C365.78,443.87 364.85,437.70 363.80,432.80C362.75,427.90 361.60,424.53 360.00,421.50C358.40,418.47 357.27,416.30 354.20,414.60C351.13,412.90 346.00,412.28 341.60,411.30C337.20,410.32 330.10,409.13 327.80,408.70Z" fill="#ff2a00" fill-opacity="0.50" fill-rule="nonzero"/>
<path d="M448.40,283.80C447.90,284.12 450.93,282.18 445.40,285.70C439.87,289.22 424.77,298.82 415.20,304.90C405.63,310.98 396.72,316.98 388.00,322.20C379.28,327.42 371.63,331.47 362.90,336.20C354.17,340.93 341.88,347.22 335.60,350.60C329.32,353.98 327.78,354.47 325.20,356.50C322.62,358.53 321.43,360.80 320.10,362.80C318.77,364.80 317.78,366.67 317.20,368.50C316.62,370.33 316.50,372.28 316.60,373.80C316.70,375.32 317.00,376.23 317.80,377.60C318.60,378.97 319.87,380.63 321.40,382.00C322.93,383.37 325.12,384.83 327.00,385.80C328.88,386.77 330.70,387.07 332.70,387.80C334.70,388.53 336.88,389.33 339.00,390.20C341.12,391.07 342.67,391.75 345.40,393.00C348.13,394.25 352.47,396.48 355.40,397.70C358.33,398.92 360.07,399.62 363.00,400.30C365.93,400.98 370.13,401.32 373.00,401.80C375.87,402.28 378.17,402.12 380.20,403.20C382.23,404.28 383.73,406.10 385.20,408.30C386.67,410.50 387.95,413.37 389.00,416.40C390.05,419.43 390.88,422.93 391.50,426.50C392.12,430.07 392.38,433.73 392.70,437.80C393.02,441.87 393.23,444.70 393.40,450.90C393.57,457.10 393.65,470.98 393.70,475.00L403.80,475.00C403.77,470.98 403.77,456.47 403.60,450.90C403.43,445.33 403.18,445.25 402.80,441.60C402.42,437.95 401.82,432.77 401.30,429.00C400.78,425.23 400.03,421.93 399.70,419.00C399.37,416.07 399.10,413.60 399.30,411.40C399.50,409.20 399.90,407.23 400.90,405.80C401.90,404.37 403.30,403.40 405.30,402.80C407.30,402.20 410.45,402.25 412.90,402.20C415.35,402.15 418.82,402.45 420.00,402.50L472.00,402.50L472.00,384.10L373.00,384.00C370.07,383.92 360.00,383.83 355.40,383.50C350.80,383.17 348.33,382.77 345.40,382.00C342.47,381.23 339.80,380.27 337.80,378.90C335.80,377.53 334.23,375.70 333.40,373.80C332.57,371.90 332.87,369.30 332.80,367.50C332.73,365.70 332.53,364.45 333.00,363.00C333.47,361.55 330.62,362.02 335.60,358.80C340.58,355.58 354.17,348.58 362.90,343.70C371.63,338.82 378.03,335.45 388.00,329.50C397.97,323.55 411.03,315.37 422.70,308.00C434.37,300.63 451.62,289.40 458.00,285.30C464.38,281.20 460.50,283.72 461.00,283.40Z" fill="#0066ff" fill-opacity="0.50" fill-rule="nonzero"/>
<line x1="397.00" y1="398.70" x2="472.00" y2="398.70" stroke="#ff9a85" stroke-width="0.80"/>
<path d="M385.20,474.50C385.15,471.33 385.07,460.48 384.90,455.50C384.73,450.52 384.68,447.88 384.20,444.60C383.72,441.32 383.10,438.73 382.00,435.80C380.90,432.87 379.37,429.52 377.60,427.00C375.83,424.48 374.25,422.67 371.40,420.70C368.55,418.73 364.42,416.63 360.50,415.20C356.58,413.77 352.10,412.93 347.90,412.10C343.70,411.27 339.28,411.15 335.30,410.20C331.32,409.25 327.35,407.97 324.00,406.40C320.65,404.83 317.72,402.78 315.20,400.80C312.68,398.82 310.27,396.60 308.90,394.50C307.53,392.40 307.00,390.30 307.00,388.20C307.00,386.10 307.75,384.22 308.90,381.90C310.05,379.58 311.60,376.82 313.90,374.30C316.20,371.78 319.08,369.37 322.70,366.80C326.32,364.23 328.90,362.52 335.60,358.90C342.30,355.28 354.17,349.60 362.90,345.10C371.63,340.60 378.03,337.53 388.00,331.90C397.97,326.27 410.10,319.07 422.70,311.30C435.30,303.53 456.28,289.97 463.60,285.30C470.92,280.63 466.10,283.63 466.60,283.30" fill="none" stroke="#ff2200" stroke-width="2.3" stroke-dasharray="8.5,3.66" stroke-dashoffset="6.2"/>
<path d="M427.00,474.50C426.95,469.93 426.85,453.55 426.70,447.10C426.55,440.65 426.52,439.35 426.10,435.80C425.68,432.25 425.15,429.05 424.20,425.80C423.25,422.55 422.08,419.03 420.40,416.30C418.72,413.57 416.62,411.38 414.10,409.40C411.58,407.42 408.87,405.77 405.30,404.40C401.73,403.03 396.88,402.15 392.70,401.20C388.52,400.25 383.48,399.52 380.20,398.70C376.92,397.88 375.87,397.32 373.00,396.30C370.13,395.28 366.13,393.95 363.00,392.60C359.87,391.25 356.72,389.88 354.20,388.20C351.68,386.52 349.37,384.87 347.90,382.50C346.43,380.13 345.32,376.78 345.40,374.00C345.48,371.22 346.95,368.42 348.40,365.80C349.85,363.18 351.68,360.60 354.10,358.30C356.52,356.00 359.33,354.32 362.90,352.00C366.47,349.68 371.32,346.72 375.50,344.40C379.68,342.08 380.13,342.25 388.00,338.10C395.87,333.95 409.27,327.10 422.70,319.50C436.13,311.90 460.47,297.33 468.60,292.50C476.73,287.67 471.02,290.83 471.50,290.50" fill="none" stroke="#0066ff" stroke-width="2.3" stroke-dasharray="8.5,3.66" stroke-dashoffset="2.0"/>
</g>
<path d="M285.20,473.20v4.86M377.10,473.20v4.86M469.00,473.20v4.86M285.20,473.20h-4.86M285.20,426.23h-4.86M285.20,379.25h-4.86M285.20,332.27h-4.86M285.20,285.30h-4.86" stroke="#000" stroke-width="1.2" fill="none"/>
<path d="M312.86,473.20v2.78M329.05,473.20v2.78M340.53,473.20v2.78M349.44,473.20v2.78M356.71,473.20v2.78M362.86,473.20v2.78M368.19,473.20v2.78M372.89,473.20v2.78M404.76,473.20v2.78M420.95,473.20v2.78M432.43,473.20v2.78M441.34,473.20v2.78M448.61,473.20v2.78M454.76,473.20v2.78M460.09,473.20v2.78M464.79,473.20v2.78M285.20,459.06h-2.78M285.20,450.79h-2.78M285.20,444.92h-2.78M285.20,440.37h-2.78M285.20,436.65h-2.78M285.20,433.50h-2.78M285.20,430.78h-2.78M285.20,428.37h-2.78M285.20,412.08h-2.78M285.20,403.81h-2.78M285.20,397.94h-2.78M285.20,393.39h-2.78M285.20,389.67h-2.78M285.20,386.53h-2.78M285.20,383.80h-2.78M285.20,381.40h-2.78M285.20,365.11h-2.78M285.20,356.84h-2.78M285.20,350.97h-2.78M285.20,346.42h-2.78M285.20,342.70h-2.78M285.20,339.55h-2.78M285.20,336.83h-2.78M285.20,334.42h-2.78M285.20,318.13h-2.78M285.20,309.86h-2.78M285.20,303.99h-2.78M285.20,299.44h-2.78M285.20,295.72h-2.78M285.20,292.58h-2.78M285.20,289.85h-2.78M285.20,287.45h-2.78" stroke="#000" stroke-width="0.83" fill="none"/>
<rect x="285.20" y="285.30" width="183.80" height="187.90" fill="none" stroke="#000" stroke-width="1.3"/>
<text x="286.90" y="304.10" font-size="13.89"><tspan font-style="italic">p</tspan><tspan dx="2.6">=</tspan><tspan dx="2.6">2.5</tspan></text>
<text x="285.20" y="495.00" text-anchor="middle" font-size="13.89">10<tspan dy="-5.3" font-size="9.72">−1</tspan></text>
<text x="377.10" y="495.00" text-anchor="middle" font-size="13.89">10<tspan dy="-5.3" font-size="9.72">0</tspan></text>
<text x="469.00" y="495.00" text-anchor="middle" font-size="13.89">10<tspan dy="-5.3" font-size="9.72">1</tspan></text>
<g clip-path="url(#cp12)">
<line x1="556.17" y1="473.20" x2="556.17" y2="285.30" stroke="#808080" stroke-width="2.3" stroke-dasharray="2.3,3.77"/>
<path d="M683.50,283.10C682.95,283.43 683.68,282.95 680.20,285.10C676.72,287.25 668.68,292.10 662.60,296.00C656.52,299.90 649.98,304.40 643.70,308.50C637.42,312.60 630.03,317.35 624.90,320.60C619.77,323.85 619.07,324.45 612.90,328.00C606.73,331.55 595.22,338.05 587.90,341.90C580.58,345.75 574.25,348.68 569.00,351.10C563.75,353.52 559.97,354.88 556.40,356.40C552.83,357.92 550.22,359.10 547.60,360.20C544.98,361.30 543.93,361.57 540.70,363.00C537.47,364.43 531.75,366.57 528.20,368.80C524.65,371.03 521.72,373.88 519.40,376.40C517.08,378.92 515.47,382.02 514.30,383.90C513.13,385.78 512.18,386.23 512.40,387.70C512.62,389.17 513.60,391.13 515.60,392.70C517.60,394.27 521.05,395.88 524.40,397.10C527.75,398.32 531.93,399.30 535.70,400.00C539.47,400.70 543.02,401.00 547.00,401.30C550.98,401.60 554.35,401.63 559.60,401.80C564.85,401.97 571.77,402.27 578.50,402.30C585.23,402.33 596.42,402.05 600.00,402.00L693.00,401.40L693.00,390.80L580.00,391.00C577.02,391.03 566.55,391.38 562.10,391.20C557.65,391.02 556.43,390.38 553.30,389.90C550.17,389.42 546.23,389.08 543.30,388.30C540.37,387.52 537.48,386.42 535.70,385.20C533.92,383.98 532.92,382.28 532.60,381.00C532.28,379.72 532.97,378.75 533.80,377.50C534.63,376.25 535.92,374.95 537.60,373.50C539.28,372.05 541.60,370.27 543.90,368.80C546.20,367.33 549.32,365.85 551.40,364.70C553.48,363.55 553.47,363.10 556.40,361.90C559.33,360.70 563.75,359.60 569.00,357.50C574.25,355.40 580.58,352.72 587.90,349.30C595.22,345.88 606.73,340.22 612.90,337.00C619.07,333.78 619.77,333.25 624.90,330.00C630.03,326.75 637.42,321.58 643.70,317.50C649.98,313.42 656.30,309.58 662.60,305.50C668.90,301.42 677.03,295.92 681.50,293.00C685.97,290.08 687.48,289.28 689.40,288.00C691.32,286.72 692.40,285.75 693.00,285.30Z" fill="#ff2a00" fill-opacity="0.50" fill-rule="nonzero"/>
<path d="M535.70,408.40C537.58,408.20 541.97,407.52 547.00,407.20C552.03,406.88 558.58,406.62 565.90,406.50C573.22,406.38 586.73,406.50 590.90,406.50L693.00,406.70L693.00,422.40L615.00,422.50C613.78,422.50 609.90,422.35 607.70,422.50C605.50,422.65 603.40,422.65 601.80,423.40C600.20,424.15 598.87,425.02 598.10,427.00C597.33,428.98 597.30,431.32 597.20,435.30C597.10,439.28 597.20,444.28 597.50,450.90C597.80,457.52 598.75,470.98 599.00,475.00L587.30,475.00C587.25,470.98 587.58,457.52 587.00,450.90C586.42,444.28 584.80,440.12 583.80,435.30C582.80,430.48 581.88,425.13 581.00,422.00C580.12,418.87 579.97,417.92 578.50,416.50C577.03,415.08 575.35,414.32 572.20,413.50C569.05,412.68 563.80,412.13 559.60,411.60C555.40,411.07 550.98,410.83 547.00,410.30C543.02,409.77 537.58,408.72 535.70,408.40Z" fill="#ff2a00" fill-opacity="0.50" fill-rule="nonzero"/>
<path d="M683.50,283.50C682.95,283.83 683.68,283.30 680.20,285.50C676.72,287.70 668.68,292.73 662.60,296.70C656.52,300.67 649.98,305.28 643.70,309.30C637.42,313.32 630.03,317.72 624.90,320.80C619.77,323.88 619.07,324.52 612.90,327.80C606.73,331.08 595.22,337.00 587.90,340.50C580.58,344.00 574.25,346.57 569.00,348.80C563.75,351.03 560.17,352.22 556.40,353.90C552.63,355.58 549.12,357.20 546.40,358.90C543.68,360.60 541.83,362.20 540.10,364.10C538.37,366.00 537.18,368.25 536.00,370.30C534.82,372.35 533.05,374.55 533.00,376.40C532.95,378.25 533.98,379.73 535.70,381.40C537.42,383.07 540.37,385.10 543.30,386.40C546.23,387.70 550.77,388.47 553.30,389.20C555.83,389.93 557.30,390.08 558.50,390.80C559.70,391.52 559.27,392.50 560.50,393.50C561.73,394.50 562.90,395.98 565.90,396.80C568.90,397.62 574.33,397.95 578.50,398.40C582.67,398.85 587.72,398.90 590.90,399.50C594.08,400.10 595.43,400.65 597.60,402.00C599.77,403.35 602.00,404.98 603.90,407.60C605.80,410.22 607.73,414.13 609.00,417.70C610.27,421.27 610.77,423.47 611.50,429.00C612.23,434.53 612.95,443.23 613.40,450.90C613.85,458.57 614.07,470.98 614.20,475.00L624.20,475.00C624.13,470.98 624.13,457.52 623.80,450.90C623.47,444.28 622.88,440.00 622.20,435.30C621.52,430.60 620.23,426.27 619.70,422.70C619.17,419.13 618.70,416.30 619.00,413.90C619.30,411.50 620.03,409.60 621.50,408.30C622.97,407.00 625.55,406.52 627.80,406.10C630.05,405.68 633.80,405.85 635.00,405.80L693.00,405.60L693.00,384.80L590.90,384.90C587.15,384.83 574.03,384.88 568.40,384.50C562.77,384.12 559.72,383.28 557.10,382.60C554.48,381.92 554.17,381.40 552.70,380.40C551.23,379.40 549.15,378.07 548.30,376.60C547.45,375.13 547.35,373.48 547.60,371.60C547.85,369.72 549.07,367.03 549.80,365.30C550.53,363.57 550.90,362.48 552.00,361.20C553.10,359.92 553.57,359.03 556.40,357.60C559.23,356.17 563.75,354.68 569.00,352.60C574.25,350.52 580.58,348.13 587.90,345.10C595.22,342.07 606.73,337.23 612.90,334.40C619.07,331.57 619.77,331.12 624.90,328.10C630.03,325.08 637.42,320.23 643.70,316.30C649.98,312.37 656.30,308.50 662.60,304.50C668.90,300.50 677.03,295.13 681.50,292.30C685.97,289.47 687.48,288.75 689.40,287.50C691.32,286.25 692.40,285.25 693.00,284.80Z" fill="#0066ff" fill-opacity="0.50" fill-rule="nonzero"/>
<path d="M606.00,474.50C605.92,471.33 605.73,460.27 605.50,455.50C605.27,450.73 605.18,448.97 604.60,445.90C604.02,442.83 603.17,439.93 602.00,437.10C600.83,434.27 599.37,431.32 597.60,428.90C595.83,426.48 593.70,424.48 591.40,422.60C589.10,420.72 587.00,418.98 583.80,417.60C580.60,416.22 576.23,415.22 572.20,414.30C568.17,413.38 563.80,412.78 559.60,412.10C555.40,411.42 550.98,411.15 547.00,410.20C543.02,409.25 539.05,408.18 535.70,406.40C532.35,404.62 529.00,401.70 526.90,399.50C524.80,397.30 523.52,395.08 523.10,393.20C522.68,391.32 523.13,390.30 524.40,388.20C525.67,386.10 527.98,383.25 530.70,380.60C533.42,377.95 536.93,374.85 540.70,372.30C544.47,369.75 548.58,367.53 553.30,365.30C558.02,363.07 563.23,361.33 569.00,358.90C574.77,356.47 580.58,354.23 587.90,350.70C595.22,347.17 606.73,341.02 612.90,337.70C619.07,334.38 619.77,333.73 624.90,330.80C630.03,327.87 637.42,323.77 643.70,320.10C649.98,316.43 654.98,313.40 662.60,308.80C670.22,304.20 684.33,295.58 689.40,292.50C694.47,289.42 692.40,290.67 693.00,290.30" fill="none" stroke="#ff2200" stroke-width="2.3" stroke-dasharray="8.5,3.66" stroke-dashoffset="2.2"/>
<path d="M647.30,474.50C647.33,470.67 647.57,457.53 647.50,451.50C647.43,445.47 647.35,442.17 646.90,438.30C646.45,434.43 645.78,431.55 644.80,428.30C643.82,425.05 642.78,421.63 641.00,418.80C639.22,415.97 636.72,413.38 634.10,411.30C631.48,409.22 628.87,407.87 625.30,406.30C621.73,404.73 616.88,402.95 612.70,401.90C608.52,400.85 604.38,400.63 600.20,400.00C596.02,399.37 591.38,398.92 587.60,398.10C583.82,397.28 580.18,396.32 577.50,395.10C574.82,393.88 573.43,392.37 571.50,390.80C569.57,389.23 567.47,387.67 565.90,385.70C564.33,383.73 562.38,381.20 562.10,379.00C561.82,376.80 562.83,374.70 564.20,372.50C565.57,370.30 568.03,368.07 570.30,365.80C572.57,363.53 574.87,360.88 577.80,358.90C580.73,356.92 584.12,355.62 587.90,353.90C591.68,352.18 596.33,350.40 600.50,348.60C604.67,346.80 608.83,344.92 612.90,343.10C616.97,341.28 619.77,339.97 624.90,337.70C630.03,335.43 637.42,332.32 643.70,329.50C649.98,326.68 654.98,324.98 662.60,320.80C670.22,316.62 684.33,307.50 689.40,304.40C694.47,301.30 692.40,302.57 693.00,302.20" fill="none" stroke="#0066ff" stroke-width="2.3" stroke-dasharray="8.5,3.66" stroke-dashoffset="7.2"/>
</g>
<path d="M505.60,473.20v4.86M597.50,473.20v4.86M689.40,473.20v4.86M505.60,473.20h-4.86M505.60,426.23h-4.86M505.60,379.25h-4.86M505.60,332.27h-4.86M505.60,285.30h-4.86" stroke="#000" stroke-width="1.2" fill="none"/>
<path d="M533.26,473.20v2.78M549.45,473.20v2.78M560.93,473.20v2.78M569.84,473.20v2.78M577.11,473.20v2.78M583.26,473.20v2.78M588.59,473.20v2.78M593.29,473.20v2.78M625.16,473.20v2.78M641.35,473.20v2.78M652.83,473.20v2.78M661.74,473.20v2.78M669.01,473.20v2.78M675.16,473.20v2.78M680.49,473.20v2.78M685.19,473.20v2.78M505.60,459.06h-2.78M505.60,450.79h-2.78M505.60,444.92h-2.78M505.60,440.37h-2.78M505.60,436.65h-2.78M505.60,433.50h-2.78M505.60,430.78h-2.78M505.60,428.37h-2.78M505.60,412.08h-2.78M505.60,403.81h-2.78M505.60,397.94h-2.78M505.60,393.39h-2.78M505.60,389.67h-2.78M505.60,386.53h-2.78M505.60,383.80h-2.78M505.60,381.40h-2.78M505.60,365.11h-2.78M505.60,356.84h-2.78M505.60,350.97h-2.78M505.60,346.42h-2.78M505.60,342.70h-2.78M505.60,339.55h-2.78M505.60,336.83h-2.78M505.60,334.42h-2.78M505.60,318.13h-2.78M505.60,309.86h-2.78M505.60,303.99h-2.78M505.60,299.44h-2.78M505.60,295.72h-2.78M505.60,292.58h-2.78M505.60,289.85h-2.78M505.60,287.45h-2.78" stroke="#000" stroke-width="0.83" fill="none"/>
<rect x="505.60" y="285.30" width="183.80" height="187.90" fill="none" stroke="#000" stroke-width="1.3"/>
<text x="507.30" y="304.10" font-size="13.89"><tspan font-style="italic">p</tspan><tspan dx="2.6">=</tspan><tspan dx="2.6">1.5</tspan></text>
<text x="505.60" y="495.00" text-anchor="middle" font-size="13.89">10<tspan dy="-5.3" font-size="9.72">−1</tspan></text>
<text x="597.50" y="495.00" text-anchor="middle" font-size="13.89">10<tspan dy="-5.3" font-size="9.72">0</tspan></text>
<text x="689.40" y="495.00" text-anchor="middle" font-size="13.89">10<tspan dy="-5.3" font-size="9.72">1</tspan></text>
<text x="377.10" y="50.00" text-anchor="middle" font-size="13.89">Absorption only</text>
<text x="377.10" y="275.50" text-anchor="middle" font-size="13.89">Absorption and scattering</text>
<text x="156.25" y="517.00" text-anchor="middle" font-size="13.89">Σ<tspan font-style="italic" font-size="9.72" dy="2.2">d</tspan><tspan dy="-2.2"> (g cm</tspan><tspan font-size="9.72" dy="-5.3">−2</tspan><tspan dy="5.3">)</tspan></text>
<text transform="translate(11.00,380.25) rotate(-90)" text-anchor="middle" font-size="13.89"><tspan font-style="italic">a</tspan><tspan font-style="italic" font-size="9.72" dy="2.2">max</tspan><tspan dy="-2.2"> (cm)</tspan></text>
<rect x="553.2" y="0.8" width="129.2" height="44.8" rx="2.8" fill="#fff" fill-opacity="0.8" stroke="#cccccc" stroke-width="1.11"/>
<line x1="558.6" x2="586.4" y1="12.00" y2="12.00" stroke="#ff2a00" stroke-opacity="0.50" stroke-width="2.3" stroke-linecap="square"/>
<text x="597.5" y="16.90" font-size="13.89"><tspan font-style="italic">λ</tspan><tspan dx="2.6">=</tspan><tspan dx="2.6">1.1 mm</tspan></text>
<line x1="558.6" x2="586.4" y1="32.20" y2="32.20" stroke="#0066ff" stroke-opacity="0.50" stroke-width="2.3" stroke-linecap="square"/>
<text x="597.5" y="37.10" font-size="13.89"><tspan font-style="italic">λ</tspan><tspan dx="2.6">=</tspan><tspan dx="2.6">2.1 mm</tspan></text>
</svg>
</body></html>
